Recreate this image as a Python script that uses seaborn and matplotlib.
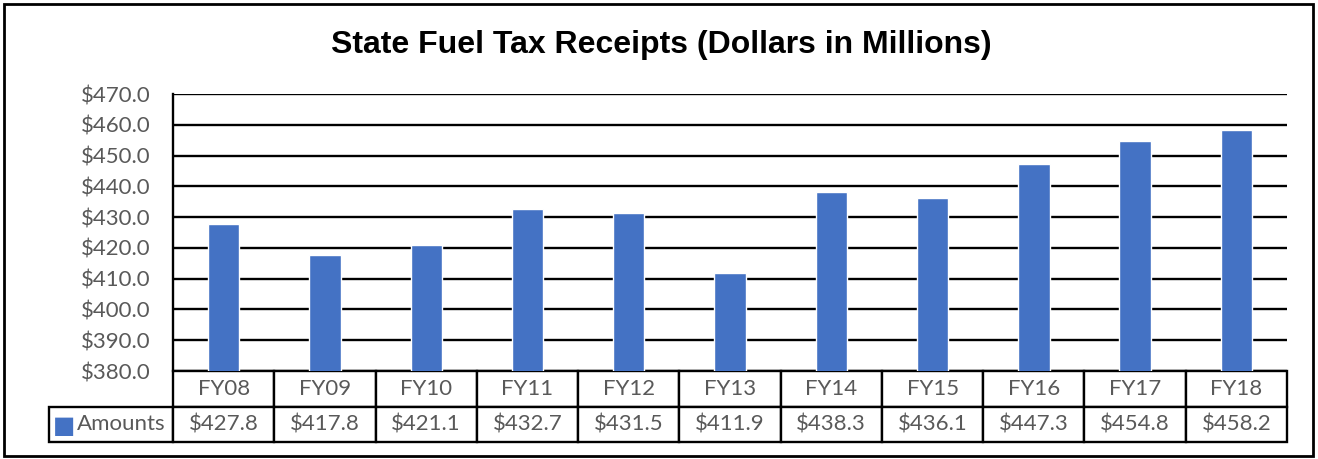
import pandas as pd
import matplotlib.pyplot as plt
import seaborn as sns
from matplotlib.table import Table
from matplotlib.patches import Rectangle
from matplotlib.ticker import FuncFormatter

# Datos del gráfico
years = ['FY08', 'FY09', 'FY10', 'FY11', 'FY12', 'FY13', 'FY14', 'FY15', 'FY16', 'FY17', 'FY18']
amounts = [427.8, 417.8, 421.1, 432.7, 431.5, 411.9, 438.3, 436.1, 447.3, 454.8, 458.2]
series_name = 'Amounts'

bar_color = '#4472C4'
text_gray = '#595959'

sns.set_style('white')
plt.rcParams['font.family'] = ['Lato', 'DejaVu Sans']

fig = plt.figure(figsize=(13.18, 4.59), dpi=100)
ax = fig.add_axes([0.1313, 0.1917, 0.8452, 0.6035])

df = pd.DataFrame({'year': years, 'amount': amounts})
sns.barplot(data=df, x='year', y='amount', color=bar_color, saturation=1,
            width=0.31, ax=ax, zorder=3)

ax.set_xlim(-0.5, len(years) - 0.5)
ax.set_ylim(380, 470)
ax.set_yticks(range(380, 471, 10))
ax.yaxis.set_major_formatter(FuncFormatter(lambda v, p: f'${v:.1f}'))
ax.yaxis.grid(True, color='black', lw=1.7)
ax.set_axisbelow(True)
ax.set_xticks([])
ax.set_xlabel('')
ax.set_ylabel('')
ax.tick_params(axis='y', labelsize=16, colors=text_gray, length=0, pad=16)
for side in ['top', 'right', 'bottom']:
    ax.spines[side].set_visible(False)
ax.spines['left'].set_color('black')
ax.spines['left'].set_linewidth(1.7)

# Tabla de datos debajo del gráfico (estilo Excel)
n = len(years)
label_w = 0.1113
tbl = Table(ax, bbox=[-label_w, -0.2563, 1 + label_w, 0.2563])
blank = tbl.add_cell(0, 0, width=label_w, height=0.5, text='')
blank.visible_edges = ''
lab = tbl.add_cell(1, 0, width=label_w, height=0.5, text=series_name, loc='right')
lab.PAD = 0.06
for i, y in enumerate(years):
    tbl.add_cell(0, i + 1, width=1 / n, height=0.5, text=y, loc='center')
    tbl.add_cell(1, i + 1, width=1 / n, height=0.5, text=f'${amounts[i]:.1f}', loc='center')
ax.add_table(tbl)
tbl.auto_set_font_size(False)
tbl.set_fontsize(16)
for cell in tbl.get_celld().values():
    cell.set_linewidth(1.7)
    cell.set_edgecolor('black')
    cell.get_text().set_color(text_gray)

# Marcador de la leyenda
ax.text(-0.0978, -0.1986, '\u25A0', transform=ax.transAxes, color=bar_color,
        fontsize=17, ha='center', va='center', clip_on=False,
        family=['DejaVu Sans'])

fig.text(0.5015, 0.902, 'State Fuel Tax Receipts (Dollars in Millions)',
         ha='center', va='center', fontsize=23, fontweight='bold', color='black',
         family=['Liberation Sans', 'DejaVu Sans'])

fig.add_artist(Rectangle((0.003, 0.006), 0.993, 0.986, transform=fig.transFigure,
                         fill=False, ec='black', lw=2))

fig.savefig('out.png', dpi=100)
